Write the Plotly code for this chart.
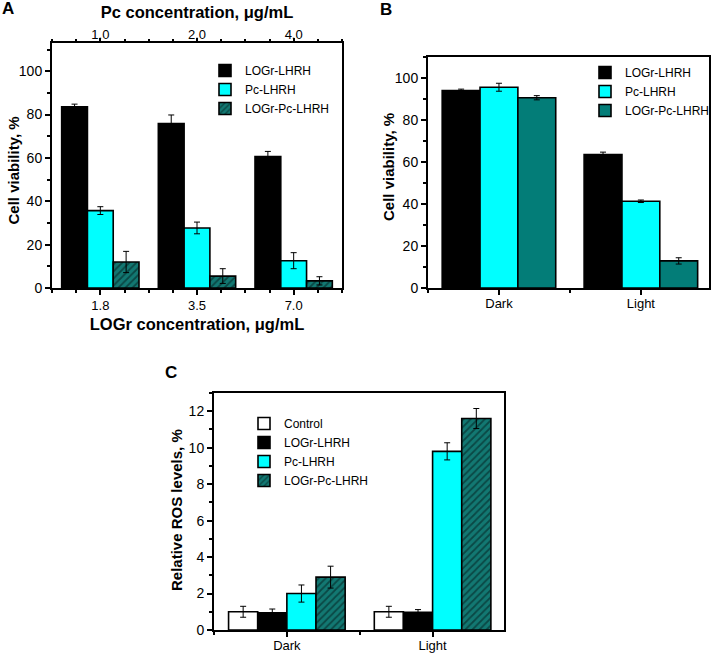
import plotly.graph_objects as go

W, H = 716, 653

# ---------------- Data ----------------
# Panel A
logr_conc = ["1.8", "3.5", "7.0"]
pc_conc = ["1.0", "2.0", "4.0"]
a_logr = [83.6, 75.9, 60.6]
a_logr_err = [1.2, 3.9, 2.4]
a_pc = [35.7, 27.7, 12.6]
a_pc_err = [1.8, 2.7, 3.7]
a_comb = [12.0, 5.5, 3.3]
a_comb_err = [4.9, 3.4, 1.9]

# Panel B
b_conditions = ["Dark", "Light"]
b_logr = [94.0, 63.5]
b_logr_err = [0.7, 1.2]
b_pc = [95.6, 41.3]
b_pc_err = [1.9, 0.6]
b_comb = [90.6, 12.9]
b_comb_err = [1.0, 1.5]

# Panel C
c_conditions = ["Dark", "Light"]
c_control = [1.0, 1.0]
c_control_err = [0.3, 0.3]
c_logr = [0.95, 0.97]
c_logr_err = [0.2, 0.15]
c_pc = [2.0, 9.8]
c_pc_err = [0.47, 0.47]
c_comb = [2.9, 11.6]
c_comb_err = [0.6, 0.55]

series_names = ["Control", "LOGr-LHRH", "Pc-LHRH", "LOGr-Pc-LHRH"]

# ---------------- Styles ----------------
FONT = "Liberation Sans, Arial, sans-serif"
BLACK = "#000000"
CYAN = "#00FFFF"
TEAL = "#037D78"
HATCH_BG = "#127872"
HATCH_FG = "#0A4845"

def err(arr):
    return dict(type="data", array=arr, color="black", thickness=1, width=3)

def bar(x, y, e, name, color, xa, ya, leg, hatch=False):
    marker = dict(color=color, line=dict(color="black", width=1.6))
    if hatch:
        marker["pattern"] = dict(shape="/", fgcolor=HATCH_FG, bgcolor=HATCH_BG,
                                 size=5, solidity=0.35, fillmode="replace")
    return go.Bar(x=x, y=y, error_y=err(e), name=name, marker=marker,
                  xaxis=xa, yaxis=ya, legend=leg)

fig = go.Figure()

pos_a = list(range(len(logr_conc)))
fig.add_trace(bar(pos_a, a_logr, a_logr_err, series_names[1], BLACK, "x", "y", "legend"))
fig.add_trace(bar(pos_a, a_pc, a_pc_err, series_names[2], CYAN, "x", "y", "legend"))
fig.add_trace(bar(pos_a, a_comb, a_comb_err, series_names[3], HATCH_BG, "x", "y", "legend", hatch=True))
# empty trace so the top (Pc concentration) axis is drawn
fig.add_trace(go.Scatter(x=[None], y=[None], xaxis="x2", yaxis="y", showlegend=False,
                         hoverinfo="skip", mode="markers"))

pos_b = list(range(len(b_conditions)))
fig.add_trace(bar(pos_b, b_logr, b_logr_err, series_names[1], BLACK, "x3", "y3", "legend2"))
fig.add_trace(bar(pos_b, b_pc, b_pc_err, series_names[2], CYAN, "x3", "y3", "legend2"))
fig.add_trace(bar(pos_b, b_comb, b_comb_err, series_names[3], TEAL, "x3", "y3", "legend2"))

pos_c = list(range(len(c_conditions)))
fig.add_trace(bar(pos_c, c_control, c_control_err, series_names[0], "#FFFFFF", "x4", "y4", "legend3"))
fig.add_trace(bar(pos_c, c_logr, c_logr_err, series_names[1], BLACK, "x4", "y4", "legend3"))
fig.add_trace(bar(pos_c, c_pc, c_pc_err, series_names[2], CYAN, "x4", "y4", "legend3"))
fig.add_trace(bar(pos_c, c_comb, c_comb_err, series_names[3], HATCH_BG, "x4", "y4", "legend3", hatch=True))

xtickfont = dict(family=FONT, size=13, color="black")
ytickfont = dict(family=FONT, size=14, color="black")
titlefont = dict(family=FONT, size=15, color="black", weight="bold")
xtitlefont = dict(family=FONT, size=16.5, color="black", weight="bold")

common = dict(showline=True, linewidth=2, linecolor="black", mirror=True,
              ticks="outside", ticklen=5, tickwidth=1.5, tickcolor="black",
              showgrid=False, zeroline=False, automargin=False)

def xax(domain, rng, pos, labels, anchor, minor_tick0, minor_dtick, title=None, standoff=8,
        label_shift=0, minor_len=3, **kw):
    d = dict(common, domain=domain, range=rng, tickmode="array", tickvals=pos, ticktext=labels,
             anchor=anchor, tickfont=xtickfont, ticklabelstandoff=label_shift,
             minor=dict(tickmode="linear", tick0=minor_tick0, dtick=minor_dtick,
                        ticks="outside", ticklen=minor_len, tickwidth=1.5, tickcolor="black"))
    if title:
        d["title"] = dict(text=title, font=xtitlefont, standoff=standoff)
    d.update(kw)
    return d

def yax(domain, rng, dtick, minor_dtick, anchor):
    return dict(common, domain=domain, range=rng, dtick=dtick, tick0=0, anchor=anchor,
                tickfont=ytickfont,
                minor=dict(tickmode="linear", tick0=0, dtick=minor_dtick,
                           ticks="outside", ticklen=3, tickwidth=1.5, tickcolor="black"))

# domains in pixels -> paper
def xd(l, r):
    return [l / W, r / W]

def yd(top, bottom):
    return [1 - bottom / H, 1 - top / H]

legfont = dict(family=FONT, size=12, color="black")

fig.update_layout(
    width=W, height=H,
    margin=dict(l=0, r=0, t=0, b=0),
    paper_bgcolor="white", plot_bgcolor="white",
    barmode="group", bargap=0.2, bargroupgap=0,
    font=dict(family=FONT, color="black"),
    xaxis=xax(xd(52, 342), [-0.5, 2.5], pos_a, logr_conc, "y", 0, 0.25,
              title="LOGr concentration, μg/mL", standoff=7, label_shift=-1),
    xaxis2=xax(xd(52, 342), [-0.5, 2.5], pos_a, pc_conc, "y", 0, 0.25,
               title="Pc concentration, μg/mL", standoff=4, label_shift=-6, ticklen=3,
               minor_len=2, overlaying="x", side="top"),
    yaxis=yax(yd(43, 288), [0, 113], 20, 10, "x"),
    xaxis3=xax(xd(428, 709), [-0.5, 1.48], pos_b, b_conditions, "y3", 0.5, 1, label_shift=-3),
    yaxis3=yax(yd(57, 288), [0, 110], 20, 10, "x3"),
    xaxis4=xax(xd(214, 504), [-0.5, 1.49], pos_c, c_conditions, "y4", 0.5, 1, label_shift=-3),
    yaxis4=yax(yd(393, 630), [0, 13], 2, 1, "x4"),
    legend=dict(x=205 / W, y=1 - 56 / H, xanchor="left", yanchor="top",
                bgcolor="rgba(0,0,0,0)", font=legfont, tracegroupgap=0),
    legend2=dict(x=585 / W, y=1 - 58 / H, xanchor="left", yanchor="top",
                 bgcolor="rgba(0,0,0,0)", font=legfont, tracegroupgap=0),
    legend3=dict(x=244 / W, y=1 - 409 / H, xanchor="left", yanchor="top",
                 bgcolor="rgba(0,0,0,0)", font=legfont, tracegroupgap=0),
)

# y-axis titles (positioned to match the reference)
for text, px, py in [("Cell viability, %", 13.5, 171), ("Cell viability, %", 388, 167),
                     ("Relative ROS levels, %", 176, 510)]:
    fig.add_annotation(text=text, x=px / W, y=1 - py / H, xref="paper", yref="paper",
                       showarrow=False, textangle=-90, xanchor="center", yanchor="middle",
                       font=titlefont)

panel_font = dict(family=FONT, size=17, color="black", weight="bold")
for label, px, py in [("A", 8, 9), ("B", 386, 10), ("C", 171, 372)]:
    fig.add_annotation(text=label, x=px / W, y=1 - py / H, xref="paper", yref="paper",
                       showarrow=False, xanchor="center", yanchor="middle", font=panel_font)

fig.write_html("out.html", config={"displayModeBar": False},
               post_script="document.body.style.margin='0px';document.body.style.overflow='hidden';")
